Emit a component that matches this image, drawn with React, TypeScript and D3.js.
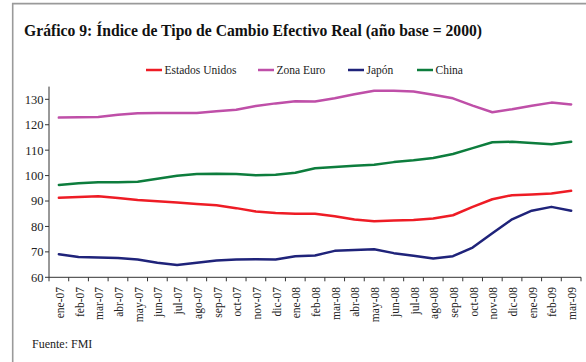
import React from "react";
import * as d3 from "d3";

const months = [
  "ene-07","feb-07","mar-07","abr-07","may-07","jun-07","jul-07","ago-07","sep-07","oct-07","nov-07","dic-07",
  "ene-08","feb-08","mar-08","abr-08","may-08","jun-08","jul-08","ago-08","sep-08","oct-08","nov-08","dic-08",
  "ene-09","feb-09","mar-09",
];

const estadosUnidos = [91.3,91.6,91.9,91.2,90.4,89.9,89.4,88.8,88.3,87.2,85.9,85.3,85.0,85.0,84.0,82.7,82.0,82.3,82.5,83.1,84.4,87.7,90.7,92.3,92.6,93.0,94.0];
const zonaEuro = [122.8,122.9,123.0,123.9,124.5,124.6,124.6,124.6,125.3,125.9,127.4,128.4,129.2,129.1,130.4,132.0,133.4,133.4,133.1,131.8,130.4,127.5,124.9,126.1,127.5,128.7,128.0];
const japon = [69.1,68.0,67.8,67.6,67.0,65.7,64.8,65.7,66.6,67.0,67.1,67.0,68.3,68.6,70.4,70.7,71.0,69.5,68.5,67.4,68.3,71.7,77.3,82.8,86.2,87.7,86.2];
const china = [96.3,97.0,97.4,97.4,97.6,98.8,99.9,100.6,100.7,100.6,100.1,100.3,101.1,102.9,103.4,103.9,104.3,105.3,106.0,106.9,108.5,110.8,113.1,113.3,112.8,112.3,113.3];

const yTicks = [60, 70, 80, 90, 100, 110, 120, 130];

const seriesList = [
  { name: "Estados Unidos", values: estadosUnidos, color: "#ee1c25" },
  { name: "Zona Euro", values: zonaEuro, color: "#bf4fa8" },
  { name: "Japón", values: japon, color: "#1f237a" },
  { name: "China", values: china, color: "#0d7d3d" },
];

const legendX = [146, 258, 348, 417];

export default function App() {
  const W = 586, H = 362;
  const left = 49, right = 581, top = 86.6, bottom = 277.3;
  const x = d3.scaleBand<string>().domain(months).range([left, right]);
  const y = d3.scaleLinear().domain([60, 135]).range([bottom, top]);
  const cx = (i: number) => (x(months[i]) as number) + x.bandwidth() / 2;
  const line = d3
    .line<number>()
    .x((_, i) => cx(i))
    .y((v) => y(v))
    .curve(d3.curveLinear);
  const font = "'Liberation Serif', 'Times New Roman', serif";
  const axisColor = "#333";
  const boundaries = months.map((m) => x(m) as number).concat([right]);

  return (
    <svg width={W} height={H} style={{ position: "absolute", left: 0, top: 0, background: "#fff" }} fontFamily={font}>
      <rect x={0} y={0} width={W} height={H} fill="#fff" />
      <path d={`M12.7,${H} L12.7,3.6 L${W},3.6`} fill="none" stroke="#9a9a9a" strokeWidth={1.6} />
      <text x={24} y={36} fontSize={16} fontWeight="bold" fill="#111" textLength={458} lengthAdjust="spacingAndGlyphs">
        Gráfico 9: Índice de Tipo de Cambio Efectivo Real (año base = 2000)
      </text>
      {seriesList.map((s, k) => (
        <g key={s.name}>
          <line x1={legendX[k]} x2={legendX[k] + 16} y1={70} y2={70} stroke={s.color} strokeWidth={2.5} />
          <text x={legendX[k] + 18.5} y={74} fontSize={11.5} fill="#222">{s.name}</text>
        </g>
      ))}
      {/* y axis */}
      <line x1={left} x2={left} y1={top} y2={bottom} stroke={axisColor} strokeWidth={1} />
      {yTicks.map((t) => (
        <g key={t}>
          <line x1={left - 4} x2={left} y1={y(t)} y2={y(t)} stroke={axisColor} strokeWidth={1} />
          <text x={43.5} y={y(t)} dy="0.35em" textAnchor="end" fontSize={12.5} fill="#222">{t}</text>
        </g>
      ))}
      {/* x axis */}
      <line x1={left} x2={right} y1={bottom} y2={bottom} stroke={axisColor} strokeWidth={1} />
      {boundaries.map((b, i) => (
        <line key={i} x1={b} x2={b} y1={bottom} y2={bottom + 4} stroke={axisColor} strokeWidth={1} />
      ))}
      {months.map((m, i) => (
        <text key={m} transform={`translate(${cx(i) + 1},287) rotate(-90)`} textAnchor="end" dy="0.35em" fontSize={11.5} fill="#222">
          {m}
        </text>
      ))}
      {seriesList.map((s) => (
        <path key={s.name} d={line(s.values) || ""} fill="none" stroke={s.color} strokeWidth={2.5} strokeLinejoin="round" strokeLinecap="round" />
      ))}
      <text x={32} y={348} fontSize={12} fill="#222">Fuente: FMI</text>
    </svg>
  );
}
